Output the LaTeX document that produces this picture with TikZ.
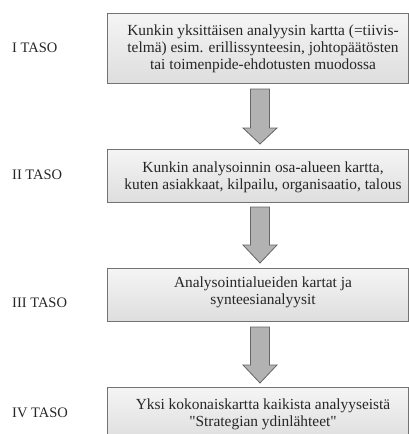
\documentclass[tikz,border=0pt]{standalone}
\usepackage{fontspec}
\setmainfont{Liberation Serif}[Ligatures=TeXOff]
\begin{document}
\begin{tikzpicture}[x=1pt,y=-1pt,
  every node/.style={text=black!85},
  levelbox/.style={draw=black!55, line width=0.9pt, top color=black!4, bottom color=black!13,
    rectangle, inner sep=0pt},
  levellabel/.style={anchor=west, inner sep=0pt, font=\fontsize{14.5}{17}\selectfont},
  boxtext/.style={align=center, inner sep=0pt, font=\fontsize{15.4}{16.8}\selectfont},
  blockarrow/.style={draw=black!60, line width=0.8pt, fill=black!30, line join=miter}]
\useasboundingbox (0,0) rectangle (409,434);
\begin{scope}
\clip (0,0) rectangle (409,434);

% level boxes
\node[levelbox, minimum width=301pt, minimum height=70pt] (b1) at (258,48) {};
\node[levelbox, minimum width=301pt, minimum height=53pt] (b2) at (258,175.5) {};
\node[levelbox, minimum width=301pt, minimum height=53pt] (b3) at (258,294.5) {};
\node[levelbox, minimum width=301pt, minimum height=54pt] (b4) at (258,414) {};

% box texts
\node[boxtext] (t1) at (263,49) {Kunkin yksittäisen analyysin kartta (=tiivis-\\telmä) esim. erillissynteesin, johtopäätösten\\tai toimenpide-ehdotusten muodossa};
\node[boxtext] (t2) at (263,177.5) {Kunkin analysoinnin osa-alueen kartta,\\kuten asiakkaat, kilpailu, organisaatio, talous};
\node[boxtext] (t3) at (263,292) {Analysointialueiden kartat ja\\synteesianalyysit};
\node[boxtext] (t4) at (263,414) {Yksi kokonaiskartta kaikista analyyseistä\\"Strategian ydinlähteet"};

% level labels
\node[levellabel] (l1) at (12,48) {I TASO};
\node[levellabel] (l2) at (12,175) {II TASO};
\node[levellabel] (l3) at (12,303) {III TASO};
\node[levellabel] (l4) at (12,413) {IV TASO};

% block arrows between the levels
\foreach \top/\head/\tip in {89/128/144, 207/245/263, 327/365/383}{
  \draw[blockarrow] (250.5,\top) -- (269.5,\top) -- (269.5,\head) -- (277,\head)
    -- (260,\tip) -- (243,\head) -- (250.5,\head) -- cycle;
}
\end{scope}
\end{tikzpicture}
\end{document}
